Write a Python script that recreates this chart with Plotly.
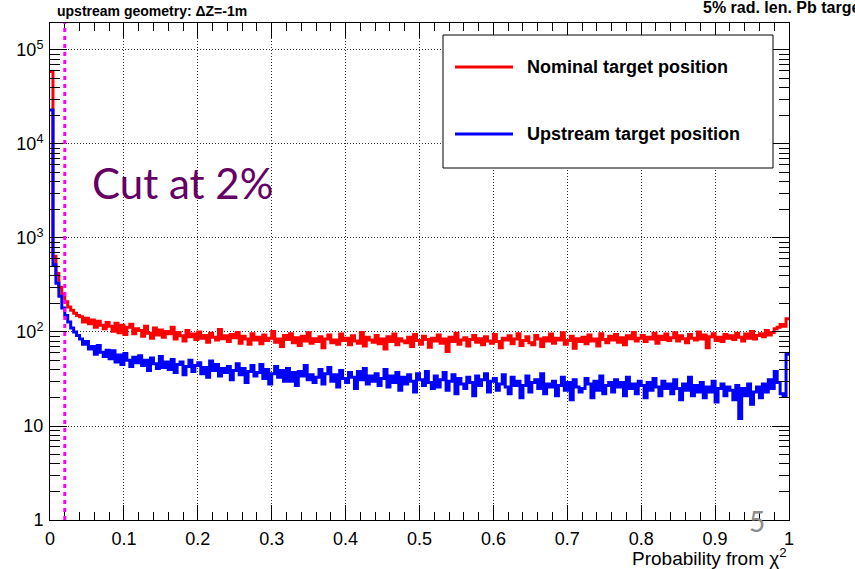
import numpy as np
import plotly.graph_objects as go

# chi2 probability histograms, 250 bins on [0, 1]
n_bins = 250
prob_edges = np.linspace(0.0, 1.0, n_bins + 1)

nominal_counts = [
    59000, 640, 420, 300, 250, 210, 185, 170, 158, 150,
    145, 128, 140, 122, 134, 112, 130, 118, 108, 126,
    115, 102, 124, 98, 118, 94, 112, 121, 96, 108,
    104, 90, 115, 97, 86, 110, 93, 105, 88, 101,
    96, 112, 84, 99, 91, 80, 104, 89, 95, 83,
    100, 86, 92, 78, 97, 88, 82, 106, 85, 91,
    79, 94, 87, 99, 76, 90, 84, 74, 96, 82,
    88, 75, 93, 81, 86, 101, 78, 84, 70, 92,
    83, 96, 77, 87, 72, 90, 80, 98, 76, 85,
    79, 89, 68, 84, 93, 77, 82, 74, 95, 81,
    86, 73, 91, 80, 76, 99, 71, 88, 82, 78,
    92, 75, 84, 66, 89, 79, 95, 73, 85, 80,
    77, 88, 70, 94, 81, 74, 90, 83, 69, 86,
    80, 93, 76, 84, 62, 88, 79, 97, 74, 82,
    87, 71, 83, 92, 78, 85, 73, 89, 80, 76,
    94, 79, 68, 86, 82, 91, 75, 84, 96, 72,
    81, 89, 77, 73, 92, 84, 70, 87, 80, 95,
    76, 86, 82, 98, 74, 81, 90, 67, 85, 79,
    88, 75, 93, 80, 84, 71, 96, 83, 77, 90,
    82, 94, 78, 87, 73, 91, 85, 99, 80, 86,
    92, 79, 88, 84, 97, 76, 90, 83, 95, 81,
    87, 98, 80, 91, 85, 77, 94, 86, 82, 100,
    84, 93, 68, 89, 96, 81, 88, 79, 94, 86,
    91, 83, 97, 88, 80, 95, 86, 101, 84, 92,
    96, 89, 104, 93, 99, 108, 112, 120, 115, 138,
]

upstream_counts = [
    23000, 520, 330, 240, 180, 150, 128, 110, 100, 92,
    84, 74, 79, 66, 70, 58, 72, 61, 55, 64,
    52, 63, 48, 57, 45, 59, 50, 43, 54, 47,
    56, 44, 50, 39, 53, 46, 41, 55, 42, 48,
    40, 51, 37, 45, 48, 35, 43, 50, 38, 44,
    47, 36, 42, 33, 49, 39, 45, 34, 41, 37,
    43, 31, 39, 46, 35, 41, 29, 38, 44, 34,
    37, 45, 32, 40, 28, 36, 43, 33, 39, 30,
    41, 30, 37, 27, 38, 34, 44, 31, 35, 29,
    33, 40, 28, 36, 42, 30, 35, 26, 39, 32,
    29, 37, 33, 25, 38, 31, 41, 28, 34, 30,
    36, 27, 32, 40, 26, 34, 29, 37, 24, 33,
    28, 35, 30, 23, 36, 31, 27, 38, 29, 25,
    34, 26, 31, 37, 24, 30, 35, 22, 32, 28,
    25, 33, 29, 21, 34, 27, 31, 36, 23, 30,
    32, 24, 28, 35, 26, 22, 33, 27, 30, 20,
    27, 34, 23, 29, 31, 25, 36, 22, 28, 26,
    30, 21, 27, 33, 24, 29, 19, 31, 26, 23,
    25, 32, 28, 20, 30, 24, 34, 22, 27, 29,
    23, 31, 26, 29, 21, 33, 25, 28, 22, 30,
    27, 20, 29, 24, 32, 26, 21, 30, 25, 28,
    22, 31, 25, 19, 28, 24, 33, 21, 27, 23,
    29, 20, 26, 23, 30, 18, 25, 28, 21, 26,
    24, 19, 27, 12, 25, 21, 28, 17, 23, 26,
    20, 28, 23, 31, 25, 38, 29, 22, 21, 58,
]

cut_value = 0.02
y_tick_vals = [1, 10, 100, 1000, 10000, 100000]
y_tick_text = ["1", "10", "10<sup>2</sup>", "10<sup>3</sup>", "10<sup>4</sup>", "10<sup>5</sup>"]

series = [
    ("Nominal target position", nominal_counts, "#ff0000"),
    ("Upstream target position", upstream_counts, "#0000ff"),
]

FONT = "Liberation Sans, Arial, Helvetica, sans-serif"

fig = go.Figure()
for name, counts, color in series:
    fig.add_trace(go.Scatter(
        x=prob_edges,
        y=list(counts) + [counts[-1]],
        mode="lines",
        line=dict(color=color, width=3, shape="hv"),
        name=name,
        showlegend=False,
        hoverinfo="skip",
    ))

# vertical cut marker
fig.add_shape(type="line", xref="x", yref="paper", x0=cut_value, x1=cut_value,
              y0=0, y1=1, line=dict(color="#ff00ff", width=3, dash="4px,4px"),
              layer="above")

# legend box drawn in paper coordinates
W, H = 855, 569
ml, mr, mt, mb = 50, 66, 23, 49
pw, ph = W - ml - mr, H - mt - mb


def px(xp):
    return (xp - ml) / pw


def py(yp):
    return 1 - (yp - mt) / ph


fig.add_shape(type="rect", xref="paper", yref="paper",
              x0=px(443), x1=px(773), y0=py(168), y1=py(35),
              line=dict(color="black", width=1), fillcolor="white", layer="above")
for (name, counts, color), ypix in zip(series, [67, 134]):
    fig.add_shape(type="line", xref="paper", yref="paper",
                  x0=px(455), x1=px(513), y0=py(ypix), y1=py(ypix),
                  line=dict(color=color, width=3), layer="above")
    fig.add_annotation(xref="paper", yref="paper", x=px(525), y=py(ypix),
                       xanchor="left", yanchor="middle", showarrow=False,
                       text="<b>" + name + "</b>",
                       font=dict(family=FONT, size=18, color="black"))

# header texts
fig.add_annotation(xref="paper", yref="paper", x=px(55), y=py(11),
                   xanchor="left", yanchor="middle", showarrow=False,
                   text="<b>upstream geometry: \u0394Z=-1m</b>",
                   font=dict(family=FONT, size=14, color="black"))
fig.add_annotation(xref="paper", yref="paper", x=px(701), y=py(18),
                   xanchor="left", yanchor="bottom", showarrow=False,
                   text="<b>5% rad. len. Pb target</b>",
                   font=dict(family=FONT, size=16, color="black"))

# axis title, right aligned under the x axis
fig.add_annotation(xref="paper", yref="paper", x=1.0, y=py(557),
                   xanchor="right", yanchor="middle", showarrow=False,
                   text="Probability from \u03c7<sup>2</sup>",
                   font=dict(family=FONT, size=19, color="black"))

fig.add_annotation(xref="paper", yref="paper", x=px(90), y=py(183),
                   xanchor="left", yanchor="middle", showarrow=False,
                   text="Cut at 2%",
                   font=dict(family="Lato, Open Sans, sans-serif", size=42, color="#650065"))

fig.add_annotation(xref="paper", yref="paper", x=px(757), y=py(521),
                   xanchor="center", yanchor="middle", showarrow=False,
                   text="5",
                   font=dict(family="Lato, Open Sans, sans-serif", size=28, color="#8c8c8c"))

fig.update_layout(
    width=W, height=H,
    margin=dict(l=ml, r=mr, t=mt, b=mb, pad=0),
    paper_bgcolor="white", plot_bgcolor="white",
    font=dict(family=FONT, size=18, color="black"),
    showlegend=False,
)
fig.update_xaxes(
    range=[0, 1], dtick=0.1, tick0=0,
    showline=True, linecolor="black", linewidth=1, mirror="allticks",
    ticks="inside", ticklen=15, tickcolor="black", tickwidth=1,
    showgrid=True, gridcolor="#333333", gridwidth=1, griddash="1px,2px",
    zeroline=False, ticklabelstandoff=2,
    tickfont=dict(family=FONT, size=18, color="black"),
    minor=dict(ticks="inside", ticklen=8, tickcolor="black", dtick=0.02, showgrid=False),
)
fig.update_yaxes(
    type="log", range=[0, 5.287],
    tickvals=y_tick_vals, ticktext=y_tick_text,
    showline=True, linecolor="black", linewidth=1, mirror="allticks",
    ticks="inside", ticklen=17, tickcolor="black", tickwidth=1,
    showgrid=True, gridcolor="#333333", gridwidth=1, griddash="1px,2px",
    zeroline=False, ticklabelstandoff=2,
    tickfont=dict(family=FONT, size=18, color="black"),
    minor=dict(ticks="inside", ticklen=10, tickcolor="black", dtick="D1", showgrid=False),
)

fig.write_html("out.html")
